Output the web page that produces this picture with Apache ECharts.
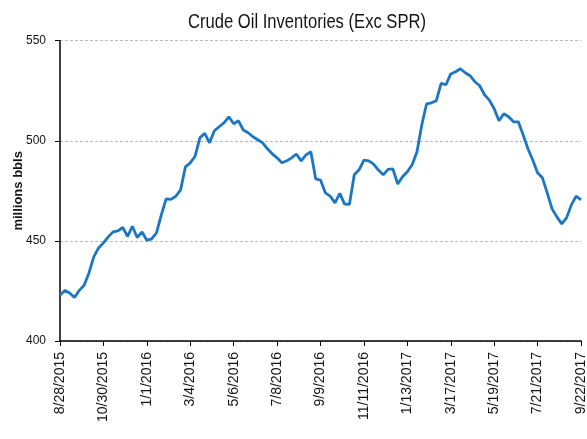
<!DOCTYPE html>
<html><head><meta charset="utf-8">
<script src="https://cdn.jsdelivr.net/npm/echarts@6/dist/echarts.min.js"></script>
<style>html,body{margin:0;padding:0;background:#fff}#c{width:587px;height:439px}</style>
</head><body><div id="c"></div>
<script>
var chartTitle = 'Crude Oil Inventories (Exc SPR)';
var startDate = '2015-08-28';
var weekCount = 109;
var inventories = [
 422.8,425.3,424,421.7,425.3,427.8,434,442,446.5,449,
 452,454.5,455,456.7,452.3,457.3,451.7,454.5,450.3,451,
 454,463,471,470.7,472.3,475.5,487,489,492.3,501.5,
 503.7,499,505,507,509,512,508.5,510,505.4,504,
 502,500.5,499,496,493.5,491.5,489,490,491.5,493.4,
 490,493,494.5,481,480.4,474,472.4,469,473.7,468.4,
 468.3,483,485.5,490.3,490,488.3,485.4,483,485.7,486,
 478.4,482,484.5,488,494.5,508,518.5,519,520,528.7,
 528,533.4,534.5,536,534,532.5,529.5,527.5,523,520.3,
 516,510,513.5,512,509.5,509.5,503,496,490.4,484,
 481.5,474,466,462,458.5,461.5,468,472.4,470.5
];
var yTicks = {min: 400, max: 550, step: 50};

var categories = [];
var d0 = new Date(startDate + 'T00:00:00Z');
for (var i = 0; i < weekCount; i++) {
  var d = new Date(d0.getTime() + i * 7 * 86400000);
  categories.push((d.getUTCMonth() + 1) + '/' + d.getUTCDate() + '/' + d.getUTCFullYear());
}

var chart = echarts.init(document.getElementById('c'), null, {renderer: 'canvas'});
chart.setOption({
  animation: false,
  graphic: [{
    type: 'text',
    x: 307, y: 22,
    scaleX: 0.83,
    style: {
      text: chartTitle,
      x: 0, y: 0,
      textAlign: 'center', textVerticalAlign: 'middle',
      font: 'normal 20px "Liberation Sans", Arial, sans-serif',
      fill: '#141414'
    }
  }],
  grid: {left: 60, right: 6, top: 40.7, bottom: 98, containLabel: false, outerBoundsMode: 'none'},
  xAxis: {
    type: 'category',
    data: categories,
    boundaryGap: false,
    axisLine: {lineStyle: {color: '#000', width: 1.5}},
    axisTick: {show: true, interval: 8, length: 5, lineStyle: {color: '#000'}},
    axisLabel: {interval: 8, rotate: 90, margin: 11, fontFamily: '"Liberation Sans", Arial, sans-serif', fontSize: 14, color: '#141414'},
    splitLine: {show: false}
  },
  yAxis: {
    type: 'value',
    min: yTicks.min, max: yTicks.max, interval: yTicks.step,
    name: 'millions bbls',
    nameLocation: 'middle', nameRotate: 90, nameGap: 35, nameMoveOverlap: false,
    nameTextStyle: {fontFamily: '"Liberation Sans", Arial, sans-serif', fontSize: 13, fontWeight: 'bold', color: '#141414'},
    axisLine: {show: true, lineStyle: {color: '#000', width: 1.5}},
    axisTick: {show: true, length: 5, lineStyle: {color: '#000'}},
    axisLabel: {margin: 14, fontFamily: '"Liberation Sans", Arial, sans-serif', fontSize: 12, color: '#141414'},
    splitLine: {show: true, lineStyle: {color: '#bbb', type: [3, 2], width: 1}}
  },
  series: [{
    type: 'line',
    data: inventories,
    showSymbol: false,
    symbol: 'none',
    lineStyle: {color: '#1b76c6', width: 2.8},
    itemStyle: {color: '#1b76c6'}
  }]
});
</script></body></html>
